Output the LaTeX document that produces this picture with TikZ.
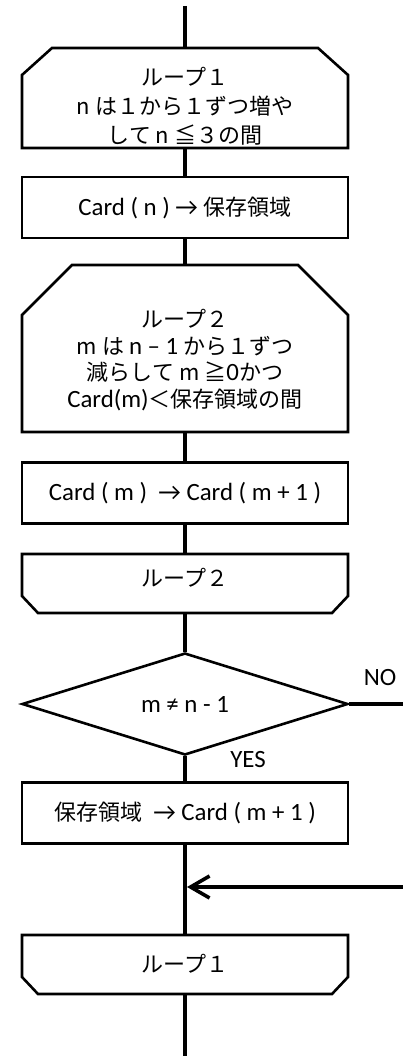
\documentclass[tikz,border=0pt]{standalone}
\usepackage{fontspec}
\setmainfont{Carlito}[Scale=1.13]
\newfontfamily\jpfont{Noto Sans CJK JP}
\usetikzlibrary{shapes.geometric}
\usetikzlibrary{arrows.meta}

\newcommand{\ja}[1]{{\jpfont #1}}

\begin{document}
\begin{tikzpicture}[
		x=1pt, y=-1pt,
		>={Straight Barb[length=19pt,width=22pt]},
		every node/.style={font=\fontsize{22}{29}\selectfont},
		proc/.style={draw,line width=2.6pt,minimum width=326pt,minimum height=61pt,inner sep=0pt},
		decision/.style={draw,diamond,aspect=3.2,line width=2.6pt,minimum width=326pt,minimum height=102pt,inner sep=0pt},
		frame/.style={draw,line width=2.6pt},
		flow/.style={line width=3.6pt}
	]
		\useasboundingbox (0,0) rectangle (403,1056);

		% Loop frames
		\draw[frame] (22,148) -- (22,75) -- (52,48) -- (318,48) -- (348,75) -- (348,148) -- cycle;
		\draw[frame] (22,432) -- (22,315) -- (72,265) -- (298,265) -- (348,315) -- (348,432) -- cycle;
		\draw[frame] (22,554) -- (348,554) -- (348,596) -- (332,613) -- (38,613) -- (22,596) -- cycle;
		\draw[frame] (22,935) -- (348,935) -- (348,977) -- (332,994) -- (38,994) -- (22,977) -- cycle;

		% Loop texts
		\node[align=center,font=\fontsize{22}{29}\selectfont] (loop1) at (185,106.5)
			{\ja{ループ１}\\\ja{n は１から１ずつ増や}\\\ja{して n ≦３の間}};
		\node[align=center,font=\fontsize{22}{26.5}\selectfont] (loop2) at (185,360)
			{\ja{ループ２}\\\ja{m は }n – 1\ja{ から１ずつ}\\\ja{減らして m ≧}0\ja{かつ}\\Card(m)\ja{＜保存領域の間}};
		\node (end2) at (185,578) {\ja{ループ２}};
		\node (end1) at (185,964) {\ja{ループ１}};

		% Steps
		\node[proc] (p1) at (185,207.5) {Card ( n ) → \ja{保存領域}};
		\node[proc] (p2) at (185,493) {Card ( m ) \ → Card ( m + 1 )};
		\node[decision] (cond) at (185,704) {m ≠ n - 1};
		\node[proc] (p3) at (185,813) {\ja{保存領域} \ → Card ( m + 1 )};

		% Labels
		\node (no) at (380,678) {NO};
		\node (yes) at (248,760) {YES};

		% Connector points
		\coordinate (start) at (185,6);
		\coordinate (l1top) at (185,48);
		\coordinate (l1bot) at (185,148);
		\coordinate (l2top) at (185,265);
		\coordinate (l2bot) at (185,432);
		\coordinate (e2top) at (185,554);
		\coordinate (e2bot) at (185,613);
		\coordinate (e1top) at (185,935);
		\coordinate (e1bot) at (185,994);
		\coordinate (stop) at (185,1056);
		\coordinate (noend) at (403,704);
		\coordinate (back) at (403,887);
		\coordinate (join) at (187,887);

		% Flow lines
		\draw[flow] (start) -- (l1top);
		\draw[flow] (l1bot) -- (p1.north);
		\draw[flow] (p1.south) -- (l2top);
		\draw[flow] (l2bot) -- (p2.north);
		\draw[flow] (p2.south) -- (e2top);
		\draw[flow] (e2bot) -- (cond.north);
		\draw[flow] (cond.south) -- (p3.north);
		\draw[flow] (p3.south) -- (e1top);
		\draw[flow] (e1bot) -- (stop);
		\draw[flow] (cond.east) -- (noend);
		\draw[flow,->] (back) -- (join);
	\end{tikzpicture}
\end{document}
